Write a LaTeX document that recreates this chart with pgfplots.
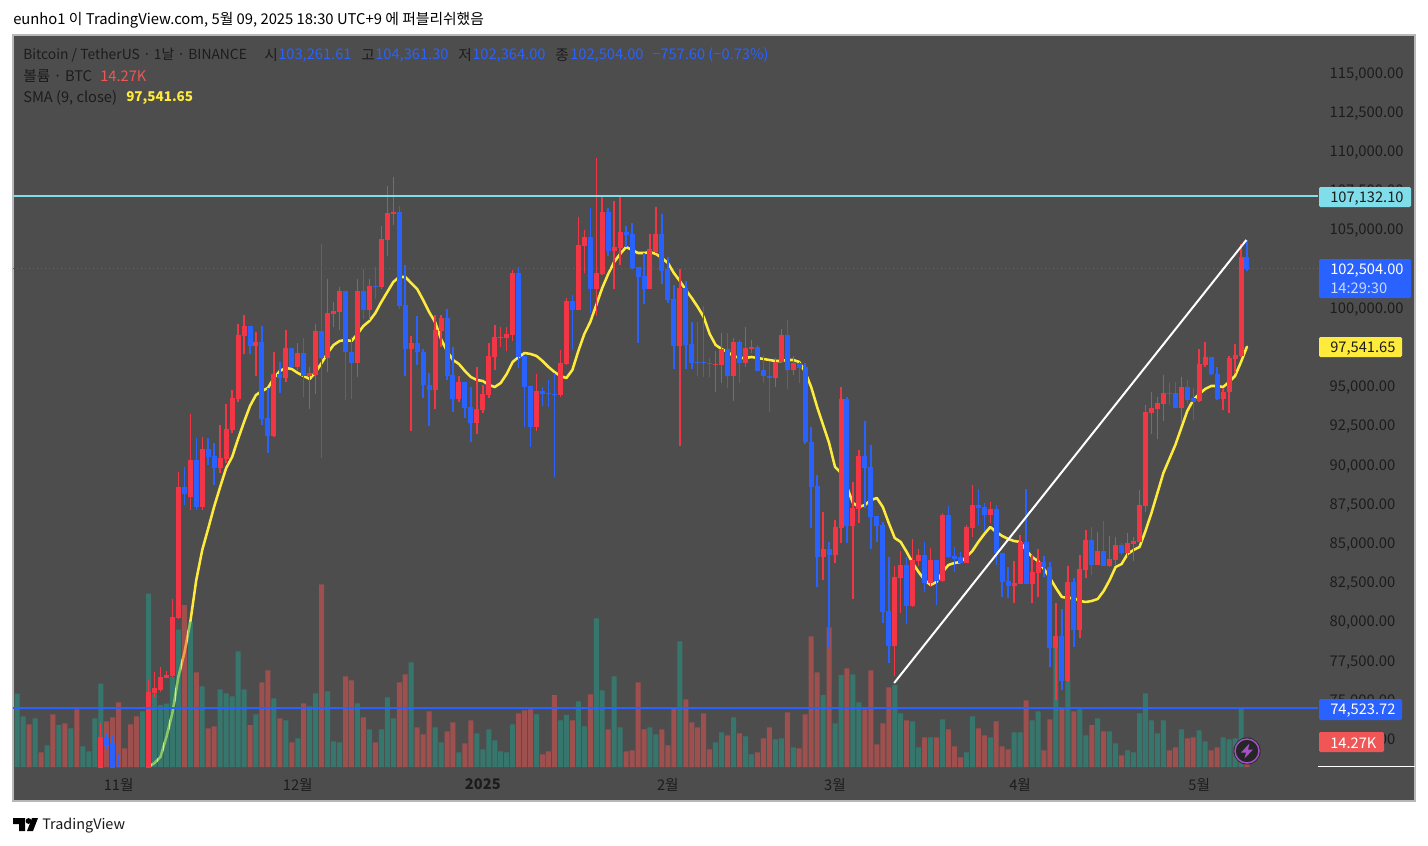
\documentclass[border=0pt]{standalone}
\usepackage{fontspec}
\setmainfont{Noto Sans CJK KR}
\usepackage{pgfplots}
\usepackage{pgfplotstable}
\pgfplotsset{compat=1.18}
\definecolor{panel}{HTML}{4D4D4D}
\definecolor{edge}{HTML}{B8B8B8}
\definecolor{inktext}{HTML}{1C1C1C}
\definecolor{upred}{HTML}{F23645}
\definecolor{downblue}{HTML}{2962FF}
\definecolor{smayellow}{HTML}{FFEB3B}
\definecolor{cyanline}{HTML}{80DEEA}
\definecolor{volteal}{HTML}{22A08E}
\definecolor{volred}{HTML}{EF5350}
\definecolor{tagred}{HTML}{F05656}
\definecolor{bolt}{HTML}{A552C8}

% columns: day index (0 = 2024-11-01), body low, body high, wick low, wick high
\pgfplotstableread{
i lo hi wl wh
-3 69847 72654 69847 73546
5 69847 75523 69847 76288
6 75460 75778 75205 76798
7 75651 76480 75523 77118
8 76416 76607 76416 76862
9 76543 80307 76480 81454
10 80243 88598 80179 89553
12 87960 90319 87130 93253
14 87322 91021 87130 91786
17 89809 90447 89490 92551
18 90383 92296 90128 93891
19 92232 94273 92041 94783
20 94209 98291 94018 98993
21 98227 98865 97079 99566
23 97589 97844 95676 98482
26 91850 95804 91786 97206
28 95549 97462 95293 98610
30 96250 97143 96059 97780
32 95676 95868 93572 96250
33 95740 98546 94528 98993
35 96824 99694 95931 101862
36 99630 99822 98801 100395
37 99757 101097 98610 101352
40 96505 101097 95612 101862
42 99885 101416 99248 101862
44 101352 104414 101225 105242
45 104350 106072 103329 107794
46 106008 106135 105306 108367
49 97398 97780 92168 98227
53 94783 98610 93572 99566
54 98546 99375 97525 99566
57 94209 95293 94018 95676
60 92679 93572 91977 96250
61 93508 94528 93317 95102
62 94464 96952 94273 97780
63 96888 98163 96059 98929
64 98099 98163 97525 98801
65 98099 98355 97270 98801
66 98291 102245 97908 102436
70 92424 94719 92168 95804
74 94464 96505 94337 97334
75 96441 100459 96378 100650
77 99885 104031 99885 105817
78 103967 104541 102245 104988
80 101225 102245 99503 109580
81 102181 106135 102117 107220
83 103648 103903 101225 106837
84 103840 104860 102755 107092
89 101225 103776 101225 104732
90 103584 104732 103520 106454
94 97589 101288 91212 102500
100 96378 96441 94655 97270
101 96378 97398 95230 98419
103 95676 97844 94082 98099
105 96505 97462 96250 98801
106 97398 97525 97143 97972
110 95549 96569 94974 96824
111 96569 98291 96505 98674
113 96059 96505 95740 96952
118 84132 84643 82666 87003
120 84260 86046 83750 86492
121 85982 94209 85026 94974
123 86110 87258 81454 88916
124 87194 90574 86301 90957
130 78456 82857 76543 83559
131 82794 83622 80562 84515
133 81008 83941 80944 85281
134 83878 84260 83559 84643
136 82475 83941 82220 84706
138 82602 86811 82538 86939
142 83750 86046 83750 86173
143 85982 87449 85408 88725
146 86811 87194 86301 87640
150 82284 82475 81199 83878
151 82411 85090 82411 85536
153 82411 83176 81199 84260
154 83112 83814 81582 84643
157 78329 79094 75013 81199
159 76224 82538 76160 83559
161 79477 83367 78967 84260
162 83304 85217 82794 85855
164 83622 84515 83622 85728
166 83559 84005 83495 85472
167 83941 84898 83622 85408
169 84388 85026 84069 85664
170 84962 85153 83878 85408
171 85090 87449 85026 88406
172 87385 93380 87003 93827
173 93317 93636 91977 94655
174 93572 93955 91658 94337
175 93891 94592 92806 95740
178 93636 94974 92742 95612
181 94082 96441 94018 97398
182 96378 96888 96250 97844
185 94209 94655 93508 94911
186 94655 96824 93317 96952
187 96761 97015 95868 97716
188 96952 103265 96888 104095
}\redcandles

\pgfplotstableread{
i lo hi wl wh
-2 72143 72654 71824 72909
-1 69847 72271 69847 72781
0 69847 70230 69847 71633
11 88151 88598 87449 89873
13 87322 90319 87130 91722
15 90510 91021 90000 91722
16 89809 90574 88725 91403
22 97589 98865 97079 98865
24 92934 97844 92551 98865
25 91850 92998 90766 94911
27 95549 95804 94592 96569
29 96250 97462 96250 97462
31 95676 97143 94337 98099
34 96824 98546 90447 104095
38 97206 101097 94146 101097
39 96505 97206 94209 98163
41 99885 101097 99311 102500
43 101352 101416 100587 102628
47 100140 106135 99949 106518
48 97398 100204 95676 102755
50 97206 97780 96378 99503
51 95102 97206 94273 97398
52 94783 95102 92488 95868
55 95676 99375 95421 99949
56 94209 95740 93380 97525
58 93636 95293 92998 95293
59 92679 93700 91467 94974
67 96888 102245 96187 102628
68 94974 96952 92424 96952
69 92424 95038 91148 95038
71 94528 94719 93763 94974
72 94528 94592 93700 95421
73 94464 94528 89235 95868
76 99885 100459 97334 100842
79 101225 104541 99694 106391
82 103648 106135 103329 106391
85 104669 104860 103903 105242
86 102564 104732 102500 105434
87 101990 102628 97780 102628
88 101225 102054 100268 103520
91 102372 104732 101544 106008
92 100523 102500 100332 103265
93 97589 100587 96123 101480
95 97653 101288 96123 101735
96 96505 97716 96123 99120
97 96505 96569 95676 99120
98 96473 96537 95612 100140
99 96441 96505 95612 96824
102 95676 97398 94911 98419
104 96505 97844 95230 97972
107 95995 97525 95995 97653
108 95676 96059 95230 97015
109 95549 95676 93380 96569
112 96059 98291 94847 99248
114 96187 96505 95230 96569
115 91467 96250 91340 96505
116 88598 91467 85982 92424
117 84132 88661 82220 89362
119 84260 84643 78329 85090
122 86110 94209 85026 94337
125 89809 90574 87258 92806
126 86683 89873 84643 91276
127 86110 86747 85090 86747
128 80625 86173 79924 86365
129 78456 80689 77373 84132
132 81008 83622 79860 84132
135 82475 84260 81901 85090
137 82602 83941 81072 83941
139 84132 86811 84069 87385
140 84005 84196 83176 84770
141 83750 84132 83686 84451
144 87258 87449 86173 88470
145 86811 87322 85791 87576
147 84388 87194 83622 87449
148 82538 84388 81582 84388
149 82284 82602 81518 83495
152 82411 85090 82411 88470
155 83495 83814 82857 84196
156 78329 83495 77118 83814
158 76224 79094 75651 80817
160 79477 82538 78393 82794
163 83622 85217 82985 86046
165 83559 84515 83559 86429
168 84388 84898 84260 85026
176 94528 94592 93827 95230
177 93636 94592 93636 95293
179 94146 94974 93891 95421
180 94018 94273 92870 94911
183 95804 96888 95740 96888
184 94209 95804 94146 96250
189 102504 103261 102364 104361
}\bluecandles

% volume in thousands of BTC
\pgfplotstableread{
i v
-17 41.8
-16 28.9
-14 27.7
-12 12.4
-10 23.8
-8 22.0
-6 11.8
-5 8.9
-4 27.7
-3 47.5
4 31.7
5 98.8
6 41.8
7 35.2
8 36.1
9 51.3
10 78.3
12 82.7
14 46.0
17 44.3
18 42.0
19 40.3
20 65.9
21 44.3
23 30.0
26 39.1
28 26.6
30 16.3
32 34.6
33 42.0
35 43.1
36 14.6
37 14.1
40 36.3
42 21.5
44 21.5
45 39.7
46 27.7
49 59.7
53 22.6
54 14.1
57 8.4
60 19.2
61 10.1
62 21.5
63 15.2
64 8.9
65 8.4
66 24.3
70 30.0
74 26.6
75 29.5
77 37.4
78 23.2
80 84.7
81 43.7
83 51.7
84 22.6
89 22.6
90 18.6
94 71.6
100 14.1
101 19.8
103 28.3
105 17.5
106 7.2
110 15.8
111 16.3
113 11.2
118 40.9
120 24.9
121 52.3
123 52.8
124 36.9
130 46.6
131 30.6
133 26.0
134 11.2
136 16.9
138 27.2
142 8.4
143 28.9
146 16.9
150 19.8
151 19.8
153 26.6
154 31.7
157 68.4
159 48.8
161 32.9
162 18.1
164 27.7
166 20.3
167 13.5
169 9.5
170 8.4
171 30.6
172 42.0
173 26.6
174 19.2
175 26.6
178 21.5
181 20.9
182 14.6
185 16.9
186 15.8
187 16.3
188 33.4
}\volup

\pgfplotstableread{
i v
-15 24.3
-13 8.4
-11 30.0
-9 24.9
-7 32.9
-2 26.0
-1 28.3
0 36.9
1 10.6
2 24.3
3 28.9
11 92.2
13 54.0
15 22.0
16 23.2
22 23.8
24 48.3
25 55.1
27 27.7
29 14.1
31 36.3
34 104.1
38 51.7
39 49.4
41 28.3
43 14.1
47 48.3
48 52.8
50 22.6
51 18.6
52 31.7
55 20.3
56 25.5
58 13.5
59 26.6
67 30.6
68 32.3
69 32.9
71 7.2
72 8.9
73 40.9
76 26.6
79 41.4
82 21.5
85 8.9
86 9.5
87 48.3
88 21.5
91 21.5
92 12.4
93 33.4
95 38.6
96 25.5
97 22.6
98 30.6
99 10.1
102 18.1
104 19.2
107 8.4
108 16.3
109 22.6
112 31.2
114 10.6
115 30.0
116 74.5
117 54.0
119 79.6
122 56.2
125 32.9
126 55.1
127 12.9
128 24.9
129 45.4
132 26.6
135 16.9
137 16.9
139 21.5
140 11.8
141 5.5
144 22.0
145 18.1
147 26.0
148 11.8
149 10.1
152 38.0
155 9.5
156 27.2
158 34.0
160 31.7
163 23.8
165 20.3
168 6.7
176 9.5
177 11.2
179 16.3
180 16.9
183 9.5
184 11.2
189 14.27
}\voldown

\pgfplotstableread{
i s
5 70740
6 70995
7 71378
8 72654
9 74184
10 76480
11 78011
12 79987
13 82666
14 84579
15 85950
16 87350
17 88600
18 89800
19 90510
20 91658
21 92742
22 93763
23 94464
24 94719
25 94911
26 95549
27 95995
28 96187
29 96123
30 95868
31 95676
32 95485
33 95931
34 96505
35 97143
36 97653
37 97908
38 97972
39 97908
40 98355
41 98865
42 99184
43 99694
44 100395
45 101033
46 101671
47 101990
48 101990
49 101607
50 101225
51 100523
52 99757
53 99120
54 98036
55 97270
56 96697
57 96441
58 95995
59 95612
60 95421
61 95357
62 95102
63 94974
64 95230
65 95804
66 96569
67 96888
68 97143
69 97079
70 96952
71 96633
72 96250
73 95931
74 95676
75 95549
76 96059
77 97270
78 98355
79 99120
80 100204
81 101288
82 102181
83 102947
84 103457
85 103903
86 103712
87 103520
88 103520
89 103584
90 103457
91 103202
92 102883
93 102245
94 101735
95 101161
96 100650
97 100076
98 99439
99 98355
100 97653
101 97398
102 97206
103 96952
104 96824
105 96824
106 96888
107 96824
108 96761
109 96697
110 96633
111 96633
112 96697
113 96697
114 96569
115 95931
116 94974
117 93700
118 92551
119 91403
120 89873
121 89490
122 88598
123 87577
124 87322
125 87449
126 87768
127 87895
128 87322
129 86301
130 85345
131 85090
132 84451
133 83750
134 83176
135 82666
136 82347
137 82538
138 83176
139 83622
140 83750
141 83814
142 84132
143 84515
144 85090
145 85600
146 86046
147 85728
148 85472
149 85281
150 85153
151 85090
152 84579
153 84132
154 83878
155 83367
156 82794
157 82156
158 81582
159 81518
160 81518
161 81327
162 81263
163 81327
164 81454
165 81965
166 82666
167 83495
168 83686
169 84324
170 84579
171 84770
172 85791
173 86939
174 88215
175 89490
176 90383
177 91276
178 92360
179 93444
180 94146
181 94528
182 94847
183 95038
184 95038
185 94974
186 95293
187 95676
188 96569
189 97541.65
}\smatable

\pgfplotsset{
  chartframe/.style={
    scale only axis,
    at={(9.75pt,-575.25pt)}, anchor=south west,
    width=978.75pt, height=549pt,
    xmin=-17.7, xmax=200.9,
  },
  priceaxis/.style={ymin=70739, ymax=117423},
}
\newcommand{\bodies}[2]{%
  \addplot[forget plot, draw=none, no markers,
    error bars/.cd, y dir=plus, y explicit, error mark=none,
    error bar style={solid, line cap=butt, draw=#2, line width=1.1pt}]
    table[x=i, y=wl, y error plus expr=\thisrow{wh}-\thisrow{wl}] {#1};
  \addplot[forget plot, draw=none, no markers,
    error bars/.cd, y dir=plus, y explicit, error mark=none,
    error bar style={solid, line cap=butt, draw=#2, line width=3.75pt}]
    table[x=i, y=lo, y error plus expr=\thisrow{hi}-\thisrow{lo}] {#1};
}
\newcommand{\txt}[3][inktext]{\node[anchor=west, inner sep=0pt, yshift=-1pt, text=#1, font=\fontsize{11}{12}\selectfont] at (#2) {#3};}
\newcommand{\tagbox}[4]{% x2, ytop, ybottom, fill
  \fill[#4, rounded corners=1pt] (1319,#2) rectangle (#1,#3);}

\begin{document}
\begin{tikzpicture}
\begin{scope}[x=0.75pt,y=-0.75pt]
  \path (0,0) rectangle (1428,846);
  \fill[panel] (13,35) rectangle (1415,801);
  \draw[edge, line width=0.9pt] (13,35) rectangle (1415,801);
  \node[anchor=west, inner sep=0pt, yshift=-1pt, text=black, font=\fontsize{11.1}{12}\selectfont] at (13,19) {eunho1 이 TradingView.com, 5월 09, 2025 18:30 UTC+9 에 퍼블리쉬했음};
\end{scope}

% price scale, time scale, SMA
\begin{axis}[chartframe, priceaxis,
    axis line style={draw=none},
    tick style={draw=none},
    clip=true,
    ytick={72500,75000,77500,80000,82500,85000,87500,90000,92500,95000,97500,100000,102500,105000,107500,110000,112500,115000},
    ytick pos=right,
    yticklabel pos=right,
    yticklabel style={anchor=west, text=inktext, inner sep=0pt, xshift=8.5pt, yshift=-0.8pt,
      font=\fontsize{11.1}{12}\selectfont,
      /pgf/number format/.cd, fixed, fixed zerofill, precision=2, 1000 sep={,}, assume math mode=true},
    scaled y ticks=false,
    xtick={0,30,61,92,120,151,181},
    xticklabels={11월,12월,\textbf{2025},2월,3월,4월,5월},
    xticklabel style={text=inktext, inner sep=0pt, yshift=-8.5pt, font=\fontsize{11}{12}\selectfont},
  ]
  \addplot[smayellow, line width=1.9pt, line join=round, line cap=round] table[x=i, y=s] {\smatable};
\end{axis}

% volume
\begin{axis}[chartframe, hide axis, ymin=0, ymax=417.2]
  \addplot[ybar, bar width=3.75pt, bar shift=0pt, draw=none, fill=volteal, fill opacity=0.5] table[x=i, y=v] {\volup};
  \addplot[ybar, bar width=3.75pt, bar shift=0pt, draw=none, fill=volred, fill opacity=0.5] table[x=i, y=v] {\voldown};
\end{axis}

% candles and drawings
\begin{axis}[chartframe, priceaxis, hide axis]
  \addplot[downblue, dash pattern=on 1.1pt off 1.9pt, line width=0.85pt] coordinates {(-17.7,102504) (200.9,102504)};
  \bodies{\bluecandles}{downblue}
  \bodies{\redcandles}{upred}
  \addplot[cyanline, line width=1.5pt] coordinates {(-17.7,107132.10) (200.9,107132.10)};
  \addplot[downblue, line width=1.5pt] coordinates {(-17.7,74523.72) (200.9,74523.72)};
  \addplot[white, line width=1.5pt] coordinates {(129.9,76097) (188.9,104350)};
\end{axis}

\begin{scope}[x=0.75pt,y=-0.75pt]
  % legend text
  \node[anchor=west, inner sep=0pt, yshift=-1pt, text=inktext, font=\fontsize{10.4}{12}\selectfont] at (23,54) {Bitcoin / TetherUS · 1날 · BINANCE};
  \txt{264,54}{시}\txt[downblue]{278,54}{103,261.61}
  \txt{361,54}{고}\txt[downblue]{375,54}{104,361.30}
  \txt{458,54}{저}\txt[downblue]{472,54}{102,364.00}
  \txt{555,54}{종}\txt[downblue]{570,54}{102,504.00}
  \txt[downblue]{652,54}{−757.60 (−0.73\%)}
  \txt{23,75}{볼륨 · BTC}\txt[tagred]{100,75}{14.27K}
  \txt{23,97}{SMA (9, close)}
  \node[anchor=west, inner sep=0pt, yshift=-1pt, text=smayellow, font=\fontsize{10.1}{12}\selectfont\bfseries] at (126,97) {97,541.65};
  % price tags
  \tagbox{1411}{187}{207}{cyanline}
  \txt{1330,197}{107,132.10}
  \tagbox{1411}{259}{298}{downblue}
  \txt[white]{1330,269}{102,504.00}
  \txt[white!75!downblue]{1330,287}{14:29:30}
  \tagbox{1402}{337}{357}{smayellow}
  \txt{1330,347}{97,541.65}
  \tagbox{1402}{699}{720}{downblue}
  \txt[white]{1330,709}{74,523.72}
  \tagbox{1384}{732}{752}{tagred}
  \txt[white]{1330,742}{14.27K}
  \draw[white, line width=0.9pt] (1318,766.5) -- (1415,766.5);
  % badge
  \fill[black!85] (1247,751) circle (13.5);
  \draw[bolt, line width=1.1pt] (1247,751) circle (12);
  \fill[bolt] (1249.5,743.5) -- (1241,752.5) -- (1246,752.5) -- (1244.5,758.5) -- (1253,749.5) -- (1248,749.5) -- cycle;
  % TradingView mark
  \fill[black] (13,818) -- (25,818) -- (25,831) -- (19,831) -- (19,824) -- (13,824) -- cycle;
  \fill[black] (28.5,821) circle (2.9);
  \fill[black] (32,818) -- (38,818) -- (33,831) -- (27,831) -- cycle;
  \node[anchor=west, inner sep=0pt, yshift=-0.6pt, text=black!90, font=\fontsize{10.8}{12}\selectfont] at (42,824.5) {TradingView};
\end{scope}
\end{tikzpicture}
\end{document}
